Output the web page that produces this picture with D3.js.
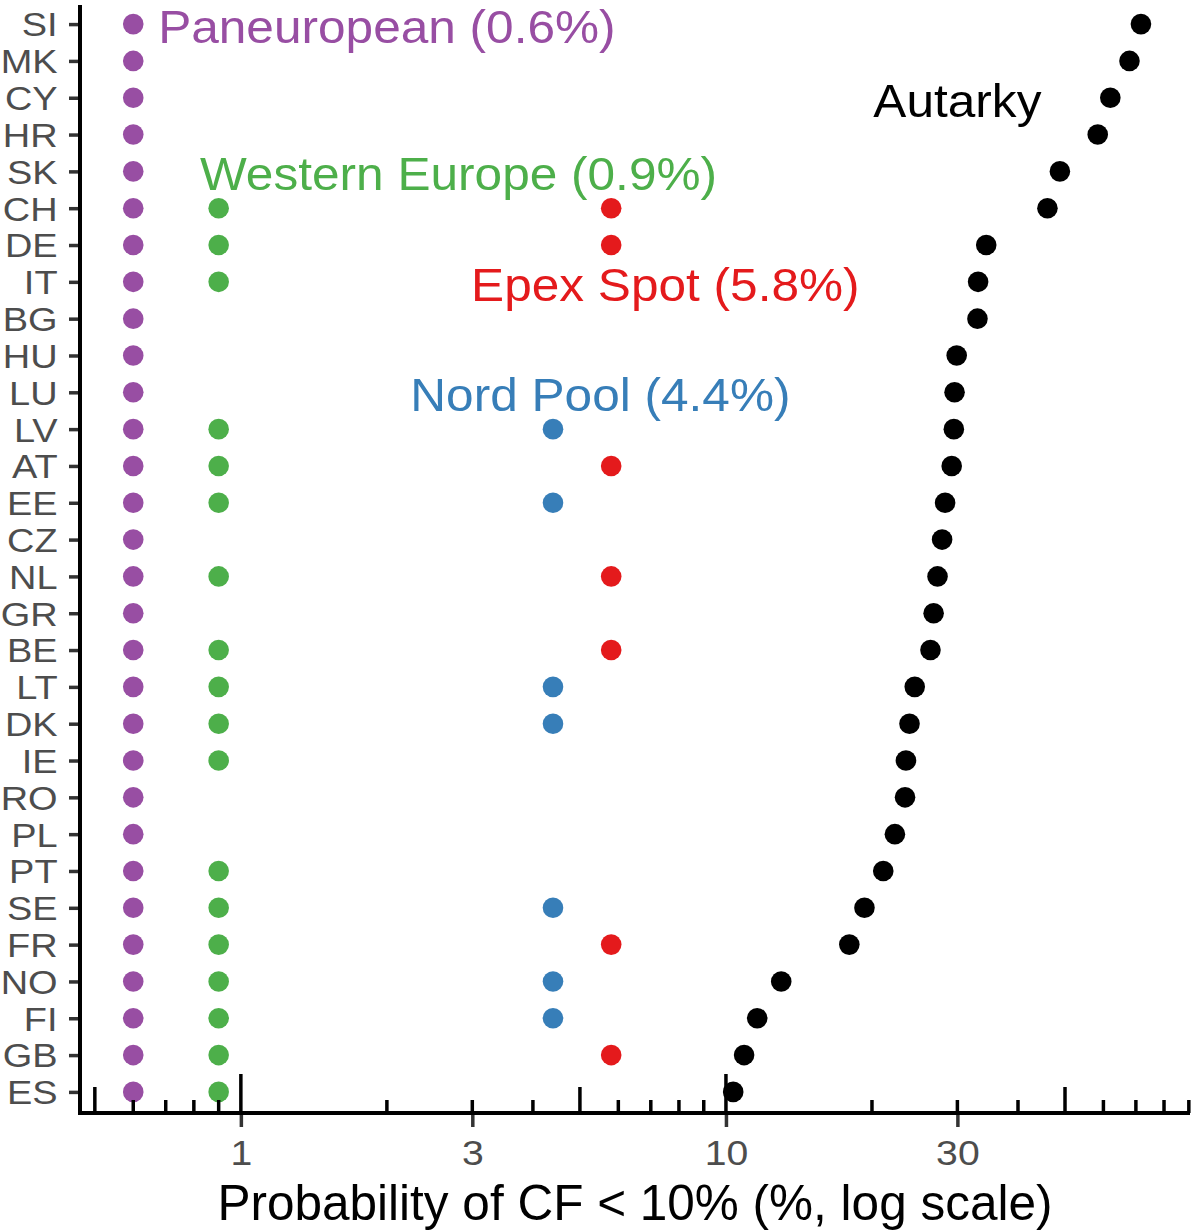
<!DOCTYPE html>
<html>
<head>
<meta charset="utf-8">
<script src="https://cdn.jsdelivr.net/npm/d3@7"></script>
<style>
  html, body { margin: 0; padding: 0; background: #ffffff; }
  svg { display: block; font-family: "Liberation Sans", Arial, sans-serif; }
</style>
</head>
<body>
<svg id="chart" width="1194" height="1230"></svg>
<script>
// Countries, top to bottom (ordered by autarky probability, descending)
const countries = ["SI","MK","CY","HR","SK","CH","DE","IT","BG","HU","LU","LV","AT","EE","CZ",
                   "NL","GR","BE","LT","DK","IE","RO","PL","PT","SE","FR","NO","FI","GB","ES"];

// Probability of CF < 10% (%) for each country without interconnection
const autarky = [71.7, 67.9, 62.0, 58.4, 48.8, 46.0, 34.4, 33.1, 33.0, 29.9, 29.6, 29.5, 29.2, 28.3, 27.9,
                 27.3, 26.8, 26.4, 24.5, 23.9, 23.5, 23.4, 22.3, 21.1, 19.3, 17.96, 13.0, 11.6, 10.9, 10.35];

// Market-zone members and their pooled probability (%)
const paneuropeanMembers = countries.slice();
const paneuropeanValue = 0.6;

const westernEuropeMembers = ["CH","DE","IT","LV","AT","EE","NL","BE","LT","DK","IE","PT","SE","FR","NO","FI","GB","ES"];
const westernEuropeValue = 0.9;

const epexSpotMembers = ["CH","DE","AT","NL","BE","FR","GB"];
const epexSpotValue = 5.8;

const nordPoolMembers = ["LV","EE","LT","DK","SE","NO","FI"];
const nordPoolValue = 4.4;

// Axis breaks
const xTickValues = [1, 3, 10, 30];

const svg = d3.select("#chart");

const x = d3.scaleLog().domain([0.466, 90.5]).range([80, 1190]);
const y = d3.scalePoint().domain(countries).range([2, 1114]).padding(0.6);

const axisY = 1113;
const fmt1 = d3.format(".1f");

// Series definitions: colour, the value per member, and the label
const series = [
  { name: "Paneuropean", color: "#984ea3",
    points: paneuropeanMembers.map(c => ({ c, v: paneuropeanValue })),
    label: `Paneuropean (${fmt1(paneuropeanValue)}%)`, row: "SI", at: 2.0 },
  { name: "Western Europe", color: "#4daf4a",
    points: westernEuropeMembers.map(c => ({ c, v: westernEuropeValue })),
    label: `Western Europe (${fmt1(westernEuropeValue)}%)`, row: "SK", at: 2.81 },
  { name: "Nord Pool", color: "#377eb8",
    points: nordPoolMembers.map(c => ({ c, v: nordPoolValue })),
    label: `Nord Pool (${fmt1(nordPoolValue)}%)`, row: "LU", at: 5.51 },
  { name: "Epex Spot", color: "#e41a1c",
    points: epexSpotMembers.map(c => ({ c, v: epexSpotValue })),
    label: `Epex Spot (${fmt1(epexSpotValue)}%)`, row: "IT", at: 7.5 },
  { name: "Autarky", color: "#000000",
    points: countries.map((c, i) => ({ c, v: autarky[i] })),
    label: "Autarky", row: "CY", at: 30 }
];

// Points
series.forEach(s => {
  svg.append("g")
    .selectAll("circle")
    .data(s.points)
    .join("circle")
      .attr("cx", d => x(d.v))
      .attr("cy", d => y(d.c))
      .attr("r", 10.3)
      .attr("fill", s.color);
});

// Series labels
svg.append("g")
  .selectAll("text")
  .data(series)
  .join("text")
    .attr("transform", d => `translate(${x(d.at)},${y(d.row)}) scale(1.055,1)`)
    .attr("dy", "0.4em")
    .attr("text-anchor", "middle")
    .attr("font-size", 47)
    .attr("fill", d => d.color)
    .text(d => d.label);

// Y axis
const gy = svg.append("g")
  .attr("transform", "translate(80,0)")
  .call(d3.axisLeft(y).tickSize(11).tickSizeOuter(0));
gy.select(".domain").remove();
gy.selectAll(".tick line").attr("stroke", "#333333").attr("stroke-width", 3.5);
gy.selectAll(".tick text")
  .attr("x", -19.5)
  .attr("dy", "0.36em")
  .attr("font-size", 33)
  .attr("fill", "#4d4d4d")
  .attr("font-family", "Liberation Sans, Arial, sans-serif")
  .attr("transform", "scale(1.15,1)");

// X axis
const gx = svg.append("g")
  .attr("transform", `translate(0,${axisY})`)
  .call(d3.axisBottom(x).tickValues(xTickValues).tickFormat(d3.format("d"))
        .tickSize(14).tickPadding(13).tickSizeOuter(0));
gx.select(".domain").remove();
gx.selectAll(".tick line").attr("stroke", "#333333").attr("stroke-width", 3.5);
gx.selectAll(".tick text")
  .attr("font-size", 35)
  .attr("fill", "#4d4d4d")
  .attr("font-family", "Liberation Sans, Arial, sans-serif")
  .attr("transform", "scale(1.12,1)");

// Log ticks inside the panel along the bottom edge
const logTicks = [];
[-1, 0, 1].forEach(k => {
  d3.range(1, 10).forEach(m => {
    const v = m * Math.pow(10, k);
    if (v >= x.domain()[0] && v <= x.domain()[1]) logTicks.push({ v, m });
  });
});
svg.append("g")
  .selectAll("line")
  .data(logTicks)
  .join("line")
    .attr("x1", d => x(d.v)).attr("x2", d => x(d.v))
    .attr("y1", axisY)
    .attr("y2", d => axisY - (d.m === 1 ? 39 : d.m === 5 ? 26 : 13))
    .attr("stroke", "#000")
    .attr("stroke-width", 3.5);

// Axis lines
svg.append("line")
  .attr("x1", 80).attr("x2", 80)
  .attr("y1", y.range()[0] + 3).attr("y2", axisY + 2)
  .attr("stroke", "#000").attr("stroke-width", 4);
svg.append("line")
  .attr("x1", 78).attr("x2", x.range()[1])
  .attr("y1", axisY).attr("y2", axisY)
  .attr("stroke", "#000").attr("stroke-width", 4);

// X axis title
svg.append("text")
  .attr("x", (x.range()[0] + x.range()[1]) / 2)
  .attr("y", 1220)
  .attr("text-anchor", "middle")
  .attr("font-size", 49.5)
  .attr("fill", "#000")
  .text("Probability of CF < 10% (%, log scale)");
</script>
</body>
</html>
